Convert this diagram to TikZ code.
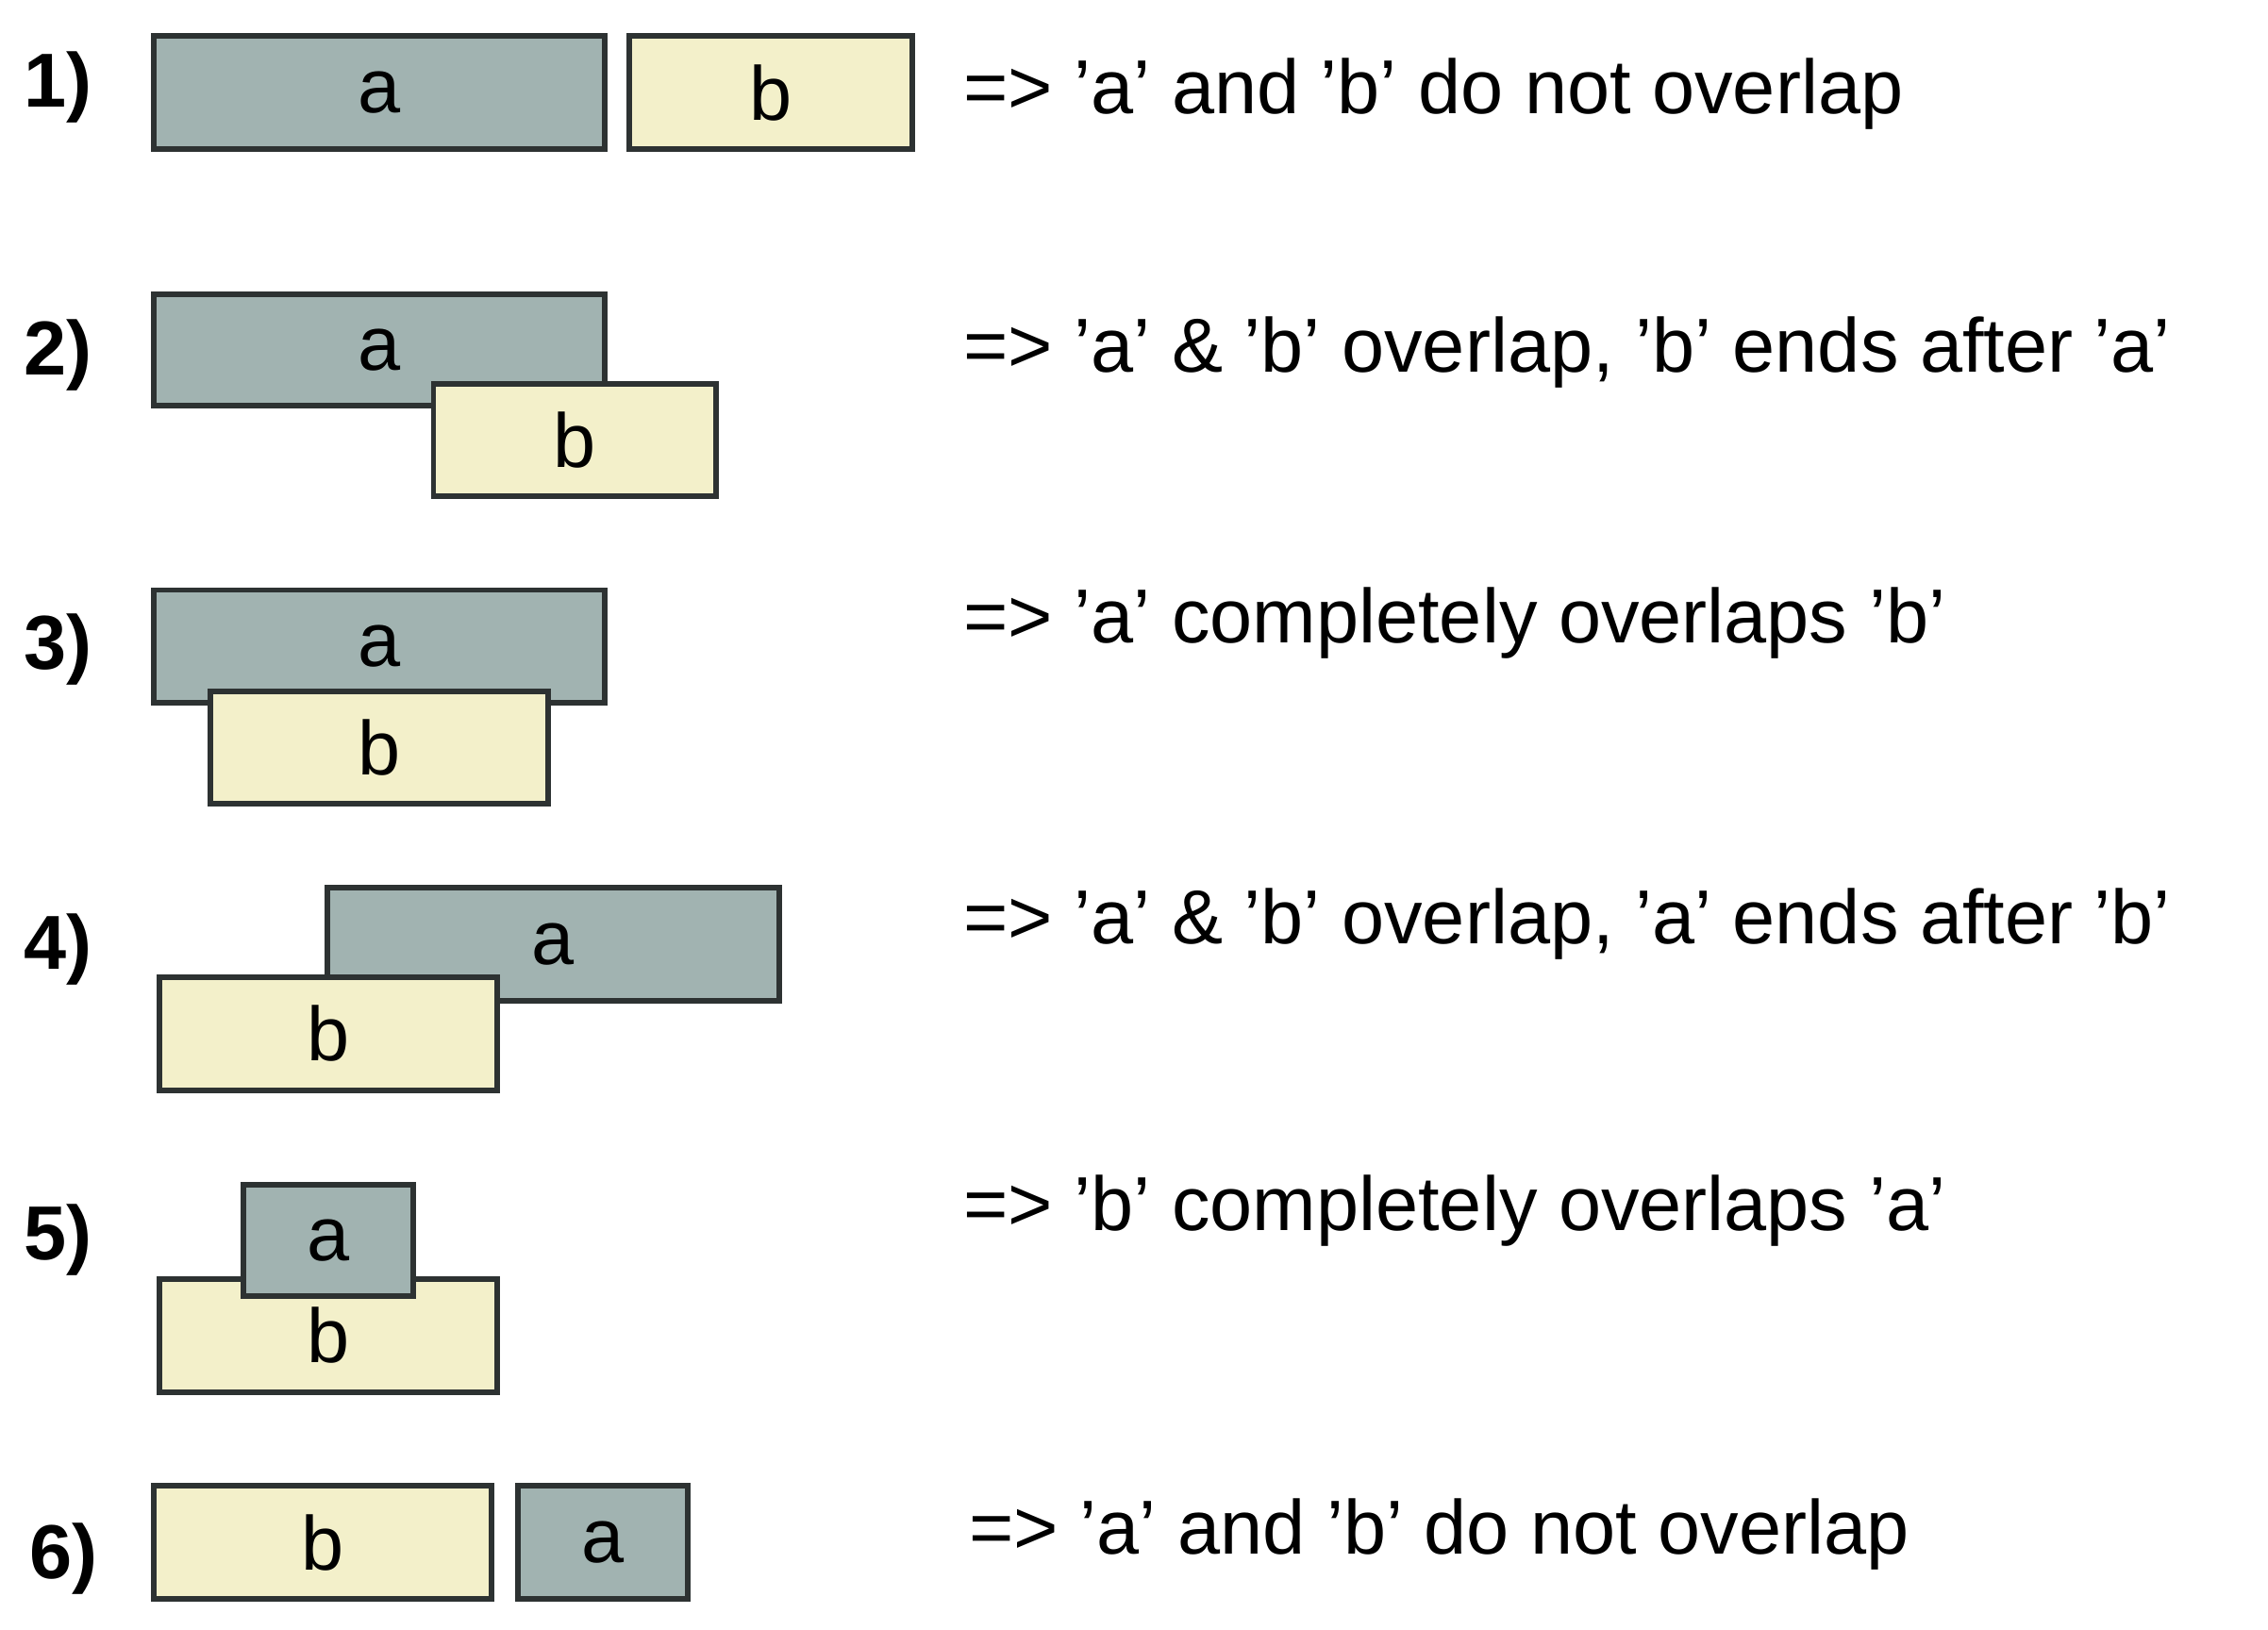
\documentclass[tikz,border=0pt]{standalone}
\usepackage{fontspec}
\setmainfont{Liberation Sans}
\definecolor{agray}{RGB}{161,179,177}
\definecolor{bcream}{RGB}{243,240,202}
\definecolor{edge}{RGB}{45,50,50}
\tikzset{
	bar/.style={draw=edge,line width=1.1pt,anchor=north west,inner sep=0pt,font=\fontsize{15}{15}\selectfont},
	abar/.style={bar,fill=agray},
	bbar/.style={bar,fill=bcream},
	num/.style={font=\bfseries\fontsize{15}{15}\selectfont},
	note/.style={anchor=west,font=\fontsize{15}{15}\selectfont}
}
\begin{document}
\begin{tikzpicture}[x=0.01cm,y=-0.01cm]
	\useasboundingbox (0,0) rectangle (1564,1124);
	% row 1
	\node (n1) at (40,60) [num] {1)};
	\node (a1) at (104,23) [abar,minimum width=3.11cm,minimum height=0.78cm] {a};
	\node (b1) at (432,23) [bbar,minimum width=1.95cm,minimum height=0.78cm] {b};
	\node (t1) at (652,65) [note] {=> 'a' and 'b' do not overlap};
	% row 2
	\node (n2) at (40,245) [num] {2)};
	\node (a2) at (104,201) [abar,minimum width=3.11cm,minimum height=0.77cm] {a};
	\node (b2) at (297,263) [bbar,minimum width=1.95cm,minimum height=0.77cm] {b};
	\node (t2) at (652,243) [note] {=> 'a' \& 'b' overlap, 'b' ends after 'a'};
	% row 3
	\node (n3) at (40,448) [num] {3)};
	\node (a3) at (104,405) [abar,minimum width=3.11cm,minimum height=0.78cm] {a};
	\node (b3) at (143,475) [bbar,minimum width=2.33cm,minimum height=0.77cm] {b};
	\node (t3) at (652,430) [note] {=> 'a' completely overlaps 'b'};
	% row 4
	\node (n4) at (40,655) [num] {4)};
	\node (a4) at (224,610) [abar,minimum width=3.11cm,minimum height=0.78cm] {a};
	\node (b4) at (108,672) [bbar,minimum width=2.33cm,minimum height=0.78cm] {b};
	\node (t4) at (652,637) [note] {=> 'a' \& 'b' overlap, 'a' ends after 'b'};
	% row 5
	\node (n5) at (40,855) [num] {5)};
	\node (b5) at (108,880) [bbar,minimum width=2.33cm,minimum height=0.78cm] {b};
	\node (a5) at (166,815) [abar,minimum width=1.17cm,minimum height=0.77cm] {a};
	\node (t5) at (652,835) [note] {=> 'b' completely overlaps 'a'};
	% row 6
	\node (n6) at (44,1075) [num] {6)};
	\node (b6) at (104,1023) [bbar,minimum width=2.33cm,minimum height=0.78cm] {b};
	\node (a6) at (355,1023) [abar,minimum width=1.17cm,minimum height=0.78cm] {a};
	\node (t6) at (656,1058) [note] {=> 'a' and 'b' do not overlap};
\end{tikzpicture}
\end{document}
